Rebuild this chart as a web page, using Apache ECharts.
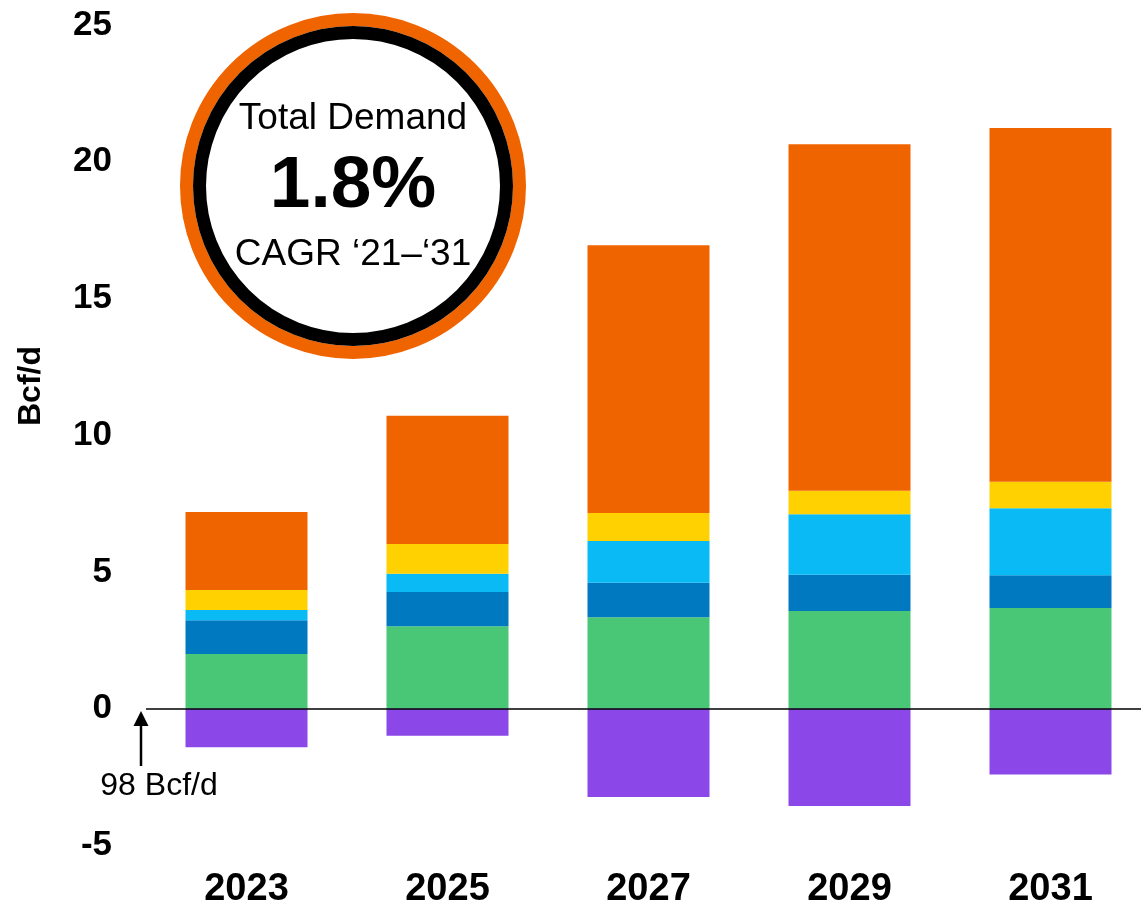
<!DOCTYPE html>
<html>
<head>
<meta charset="utf-8">
<script src="https://cdn.jsdelivr.net/npm/echarts@6/dist/echarts.min.js"></script>
<style>html,body{margin:0;padding:0;background:#fff;overflow:hidden;}#c{width:1141px;height:904px;}</style>
</head>
<body>
<div id="c"></div>
<script>
const categories = ['2023', '2025', '2027', '2029', '2031'];
const greenVals = [2.00, 3.02, 3.35, 3.57, 3.68];
const darkBlueVals = [1.24, 1.25, 1.26, 1.33, 1.20];
const lightBlueVals = [0.37, 0.67, 1.52, 2.21, 2.45];
const yellowVals = [0.73, 1.08, 1.03, 0.86, 0.97];
const orangeVals = [2.85, 4.69, 9.79, 12.67, 12.93];
const purpleVals = [-1.41, -0.99, -3.23, -3.56, -2.40];
const yTicks = [-5, 0, 5, 10, 15, 20, 25];

const chart = echarts.init(document.getElementById('c'), null, {renderer: 'canvas', width: 1141, height: 904});
const font = 'Liberation Sans, Arial, sans-serif';
function bar(name, data, color) {
  return {name, type: 'bar', stack: 'total', data, barWidth: 122,
    itemStyle: {color}, emphasis: {disabled: true}};
}
const series = [
  bar('Green', greenVals, '#49C777'),
  bar('DarkBlue', darkBlueVals, '#0079C1'),
  bar('LightBlue', lightBlueVals, '#0ABAF5'),
  bar('Yellow', yellowVals, '#FFD100'),
  bar('Orange', orangeVals, '#F06400'),
  bar('Purple', purpleVals, '#8C47E9')
];
series[0].markLine = {silent: true, symbol: 'none', label: {show: false},
  lineStyle: {color: '#000', width: 1.5, type: 'solid'}, data: [{yAxis: 0}]};

chart.setOption({
  animation: false,
  grid: {left: 146, width: 1005, top: 25, height: 820.5, containLabel: false, outerBoundsMode: 'none'},
  xAxis: {
    type: 'category', data: categories,
    axisLine: {show: false}, axisTick: {show: false},
    axisLabel: {fontFamily: font, fontWeight: 'bold', fontSize: 38, color: '#000', margin: 25}
  },
  yAxis: {
    type: 'value', min: yTicks[0], max: yTicks[yTicks.length - 1], interval: 5,
    splitLine: {show: false}, axisLine: {show: false}, axisTick: {show: false},
    axisLabel: {fontFamily: font, fontWeight: 'bold', fontSize: 35, color: '#000', margin: 34, padding: [4, 0, 0, 0]}
  },
  series,
  graphic: [
    {type: 'text', x: 31, y: 386, rotation: Math.PI / 2, z: 12, style: {text: 'Bcf/d', font: 'bold 32px ' + font, fill: '#000', align: 'center', verticalAlign: 'middle'}},
    {type: 'circle', shape: {cx: 353, cy: 186, r: 166.5}, style: {fill: '#fff', stroke: '#F06400', lineWidth: 13}, z: 10},
    {type: 'circle', shape: {cx: 353, cy: 186, r: 153.5}, style: {fill: '#fff', stroke: '#000', lineWidth: 13}, z: 11},
    {type: 'text', x: 353, y: 119, z: 12, style: {text: 'Total Demand', font: '37px ' + font, fill: '#000', align: 'center', verticalAlign: 'middle'}},
    {type: 'text', x: 353, y: 187, z: 12, style: {text: '1.8%', font: 'bold 73px ' + font, fill: '#000', align: 'center', verticalAlign: 'middle'}},
    {type: 'text', x: 353, y: 255, z: 12, style: {text: 'CAGR \u201821\u2013\u201831', font: '37px ' + font, fill: '#000', align: 'center', verticalAlign: 'middle'}},
    {type: 'line', shape: {x1: 141, y1: 766, x2: 141, y2: 722}, style: {stroke: '#000', lineWidth: 2.5}, z: 12},
    {type: 'polygon', shape: {points: [[141, 711], [133.5, 726], [148.5, 726]]}, style: {fill: '#000'}, z: 12},
    {type: 'text', x: 159, y: 786, z: 12, style: {text: '98 Bcf/d', font: '32px ' + font, fill: '#000', align: 'center', verticalAlign: 'middle'}}
  ]
});
</script>
</body>
</html>
